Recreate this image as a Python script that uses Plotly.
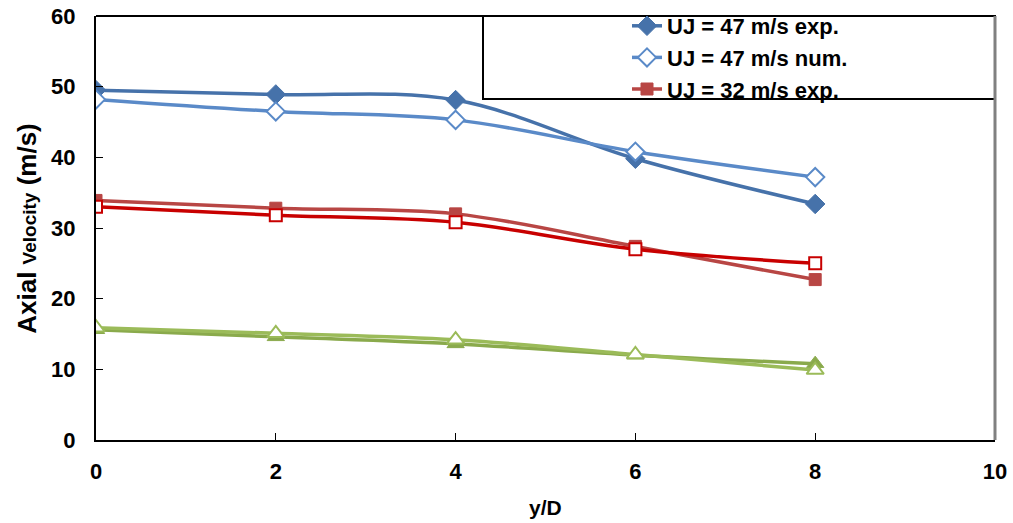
import plotly.graph_objects as go

# Streamwise positions (y/D)
y_over_d = [0, 2, 4, 6, 8]

# Axial velocity (m/s) for each jet velocity, experiment vs. numerical
uj47_exp = [49.5, 48.9, 48.1, 39.8, 33.4]
uj47_num = [48.2, 46.5, 45.3, 40.8, 37.2]
uj32_exp = [33.9, 32.8, 32.0, 27.4, 22.7]
uj32_num = [33.0, 31.8, 30.8, 27.0, 25.0]
uj16_exp = [15.6, 14.6, 13.6, 12.0, 10.8]
uj16_num = [15.9, 15.1, 14.2, 12.1, 9.9]

x_ticks = [0, 2, 4, 6, 8, 10]
y_ticks = [0, 10, 20, 30, 40, 50, 60]

series = [
    # name, values, line colour, marker symbol, filled?, size, legend
    ("UJ = 47 m/s exp.", uj47_exp, "#4672AA", "diamond", True, 15, True),
    ("UJ = 47 m/s num.", uj47_num, "#5A8AC8", "diamond", False, 14, True),
    ("UJ = 32 m/s exp.", uj32_exp, "#B84644", "square", True, 12, True),
    ("UJ = 32 m/s num.", uj32_num, "#C80000", "square", False, 12, False),
    ("UJ = 16 m/s exp.", uj16_exp, "#8AAA4C", "triangle-up", True, 15, False),
    ("UJ = 16 m/s num.", uj16_num, "#9BBB59", "triangle-up", False, 15, False),
]

fig = go.Figure()
for name, vals, color, symbol, filled, size, show in series:
    if filled:
        marker = dict(symbol=symbol, size=size, color=color,
                      line=dict(color=color, width=1))
    else:
        marker = dict(symbol=symbol, size=size, color="white",
                      line=dict(color=color, width=2))
    fig.add_trace(go.Scatter(
        x=y_over_d, y=vals, name=f"<b>{name}</b>", mode="lines+markers",
        line=dict(color=color, width=3.5, shape="spline", smoothing=1),
        marker=marker, showlegend=show,
    ))

font_family = "Liberation Sans, Arial, sans-serif"

fig.update_layout(
    width=1013, height=523,
    margin=dict(l=96, r=18, t=16, b=83, autoexpand=False),
    paper_bgcolor="white", plot_bgcolor="white",
    font=dict(family=font_family, color="black", size=22),
    showlegend=True,
    legend=dict(
        x=(627 - 96) / 899, y=1.0 + 11 / 424, xanchor="left", yanchor="top",
        bgcolor="rgba(0,0,0,0)", borderwidth=0,
        font=dict(family=font_family, size=22, color="black"),
        tracegroupgap=0, itemsizing="trace",
    ),
    xaxis=dict(
        range=[0, 10], tickvals=x_ticks, ticktext=[f"<b>{v}</b>" for v in x_ticks],
        showgrid=False, zeroline=False, showline=True, linecolor="black",
        linewidth=2, ticks="inside", ticklen=7, tickcolor="black",
        ticklabelstandoff=11, automargin=False,
    ),
    yaxis=dict(
        range=[0, 60], tickvals=y_ticks, ticktext=[f"<b>{v}</b>" for v in y_ticks],
        showgrid=False, zeroline=False, showline=True, linecolor="black",
        linewidth=2, ticks="inside", ticklen=7, tickcolor="black",
        ticklabelstandoff=14, automargin=False,
    ),
    annotations=[
        dict(text="<b>y/D</b>", xref="paper", yref="paper", x=0.5, y=-0.16,
             xanchor="center", yanchor="middle", showarrow=False,
             font=dict(size=21)),
        dict(text="<b>Axial <span style='font-size:19px'>Velocity</span> (m/s)</b>",
             xref="paper", yref="paper", x=-0.077, y=0.5, textangle=-90,
             xanchor="center", yanchor="middle", showarrow=False,
             font=dict(size=26)),
    ],
    shapes=[
        # top frame line
        dict(type="line", xref="paper", yref="paper", x0=0, x1=1, y0=1, y1=1,
             line=dict(color="black", width=2)),
        # right frame line
        dict(type="line", xref="paper", yref="paper", x0=1, x1=1, y0=0, y1=1,
             line=dict(color="#808080", width=3)),
        # legend box
        dict(type="rect", xref="paper", yref="paper",
             x0=(483 - 96) / 899, x1=1, y0=(440 - 99) / 424, y1=1,
             line=dict(color="black", width=2), fillcolor="white", layer="below"),
    ],
)

fig.write_html("out.html")
